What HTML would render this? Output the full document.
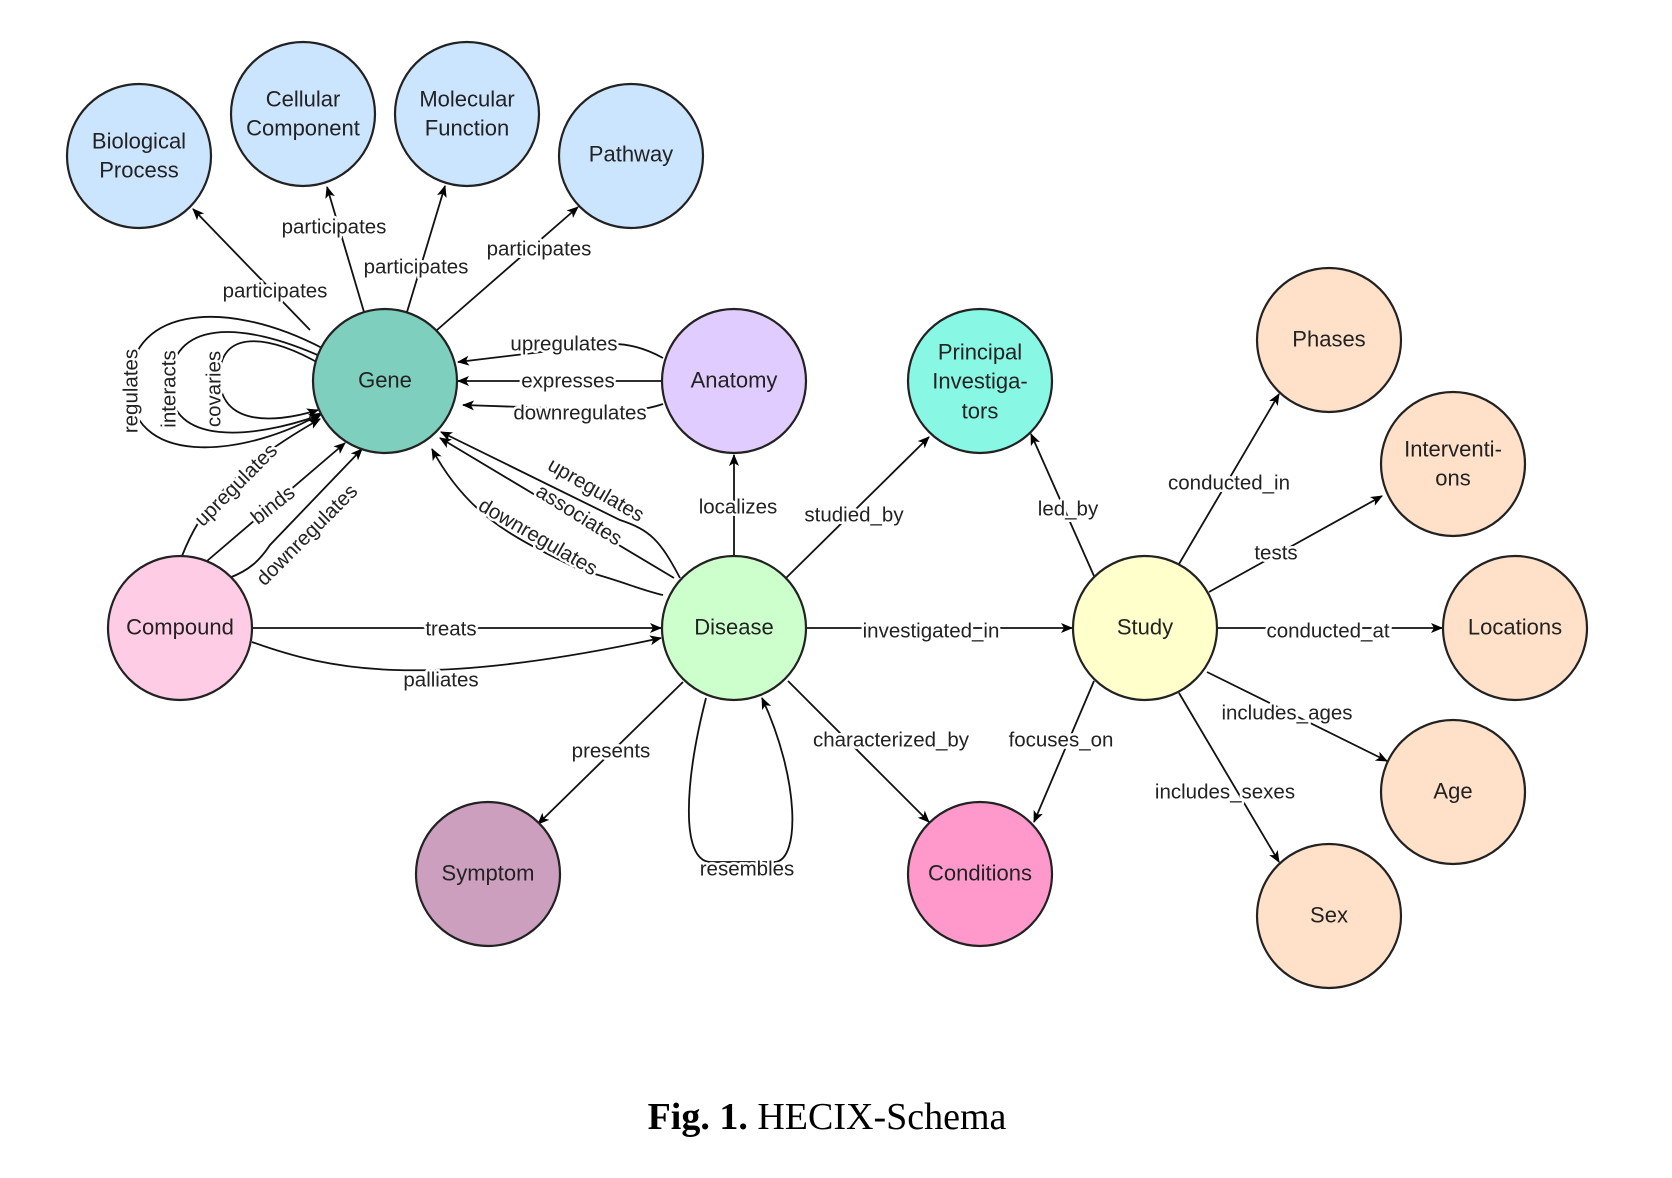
<!DOCTYPE html>
<html><head><meta charset="utf-8"><style>
html,body{margin:0;padding:0;background:#fff;}
svg{display:block;}
.n{stroke:#222;stroke-width:2.2;}
.t{font-family:"Liberation Sans",Arial,sans-serif;font-size:22px;fill:#222;text-anchor:middle;dominant-baseline:central;}
.e{fill:none;stroke:#111;stroke-width:1.8;}
.l{font-family:"Liberation Sans",Arial,sans-serif;font-size:20.5px;fill:#222;text-anchor:middle;dominant-baseline:central;paint-order:stroke;stroke:#fff;stroke-width:5px;stroke-linejoin:round;}
.cap{font-family:"Liberation Serif",serif;font-size:38px;fill:#000;text-anchor:middle;}
</style></head><body>
<svg width="1672" height="1178" viewBox="0 0 1672 1178" xmlns="http://www.w3.org/2000/svg">
<defs><marker id="a" viewBox="0 0 12 10" refX="11" refY="5" markerWidth="12" markerHeight="10" markerUnits="userSpaceOnUse" orient="auto"><path d="M0,0 L12,5 L0,10 L3,5 z" fill="#000"/></marker></defs>

<!-- edges -->
<g class="e" marker-end="url(#a)">
<path d="M310,330 L193,209"/>
<path d="M364,312 L327,187"/>
<path d="M407,312 L445,186"/>
<path d="M437,330 L578,207"/>
<path d="M663,358 Q630,340 600,345 L458,362"/>
<path d="M663,381 L458,381"/>
<path d="M663,404 Q640,412 610,410 L463,405"/>
<path d="M322,348 C220,295 125,310 130,390 C135,470 250,455 322,413"/>
<path d="M322,357 C240,320 170,320 170,385 C170,445 250,440 320,415"/>
<path d="M322,365 C270,335 225,330 220,370 C215,425 270,425 318,410"/>
<path d="M182,556 C200,510 230,470 320,419"/>
<path d="M207,561 L345,443"/>
<path d="M229,578 C250,570 260,560 270,545 L362,449"/>
<path d="M680,578 C660,540 650,530 620,520 L441,432"/>
<path d="M674,578 L440,438"/>
<path d="M663,595 C640,590 620,580 580,570 C520,540 470,520 432,449"/>
<path d="M734,556 L734,455"/>
<path d="M252,628 L661,628"/>
<path d="M252,642 C330,670 420,690 661,638"/>
<path d="M683,682 L538,824"/>
<path d="M706,698 C685,780 680,860 710,862 L775,862 C800,860 800,780 762,698"/>
<path d="M786,578 L929,437"/>
<path d="M807,628 L1072,628"/>
<path d="M788,681 L929,822"/>
<path d="M1094,576 L1031,434"/>
<path d="M1094,681 L1034,822"/>
<path d="M1179,564 L1279,394"/>
<path d="M1209,592 L1382,496"/>
<path d="M1217,628 L1442,628"/>
<path d="M1207,672 L1387,761"/>
<path d="M1179,693 L1279,862"/>
</g>

<!-- nodes -->
<circle class="n" cx="139" cy="156" r="72" fill="#cce5ff"/>
<circle class="n" cx="303" cy="114" r="72" fill="#cce5ff"/>
<circle class="n" cx="467" cy="114" r="72" fill="#cce5ff"/>
<circle class="n" cx="631" cy="156" r="72" fill="#cce5ff"/>
<circle class="n" cx="385" cy="381" r="72" fill="#7fcfbf"/>
<circle class="n" cx="734" cy="381" r="72" fill="#e1ccff"/>
<circle class="n" cx="180" cy="628" r="72" fill="#ffcce6"/>
<circle class="n" cx="734" cy="628" r="72" fill="#ccffcc"/>
<circle class="n" cx="980" cy="381" r="72" fill="#88f7e4"/>
<circle class="n" cx="1145" cy="628" r="72" fill="#ffffcc"/>
<circle class="n" cx="1329" cy="340" r="72" fill="#ffe0c8"/>
<circle class="n" cx="1453" cy="464" r="72" fill="#ffe0c8"/>
<circle class="n" cx="1515" cy="628" r="72" fill="#ffe0c8"/>
<circle class="n" cx="1453" cy="792" r="72" fill="#ffe0c8"/>
<circle class="n" cx="1329" cy="916" r="72" fill="#ffe0c8"/>
<circle class="n" cx="488" cy="874" r="72" fill="#cc9fbf"/>
<circle class="n" cx="980" cy="874" r="72" fill="#ff99cc"/>

<g class="t">
<text x="139" y="141">Biological</text><text x="139" y="170">Process</text>
<text x="303" y="99">Cellular</text><text x="303" y="128">Component</text>
<text x="467" y="99">Molecular</text><text x="467" y="128">Function</text>
<text x="631" y="154">Pathway</text>
<text x="385" y="380">Gene</text>
<text x="734" y="380">Anatomy</text>
<text x="180" y="627">Compound</text>
<text x="734" y="627">Disease</text>
<text x="980" y="352">Principal</text><text x="980" y="381">Investiga-</text><text x="980" y="411">tors</text>
<text x="1145" y="627">Study</text>
<text x="1329" y="339">Phases</text>
<text x="1453" y="449">Interventi-</text><text x="1453" y="478">ons</text>
<text x="1515" y="627">Locations</text>
<text x="1453" y="791">Age</text>
<text x="1329" y="915">Sex</text>
<text x="488" y="873">Symptom</text>
<text x="980" y="873">Conditions</text>
</g>

<g class="l">
<text x="275" y="291">participates</text>
<text x="334" y="227">participates</text>
<text x="416" y="267">participates</text>
<text x="539" y="249">participates</text>
<text x="564" y="344">upregulates</text>
<text x="568" y="381">expresses</text>
<text x="580" y="413">downregulates</text>
<text transform="translate(131,391) rotate(-90)">regulates</text>
<text transform="translate(169,389) rotate(-90)">interacts</text>
<text transform="translate(214,389) rotate(-90)">covaries</text>
<text transform="translate(236,485) rotate(-45)">upregulates</text>
<text transform="translate(273,505) rotate(-38)">binds</text>
<text transform="translate(307,535) rotate(-45)">downregulates</text>
<text transform="translate(596,490) rotate(30)">upregulates</text>
<text transform="translate(579,515) rotate(32)">associates</text>
<text transform="translate(538,537) rotate(30)">downregulates</text>
<text x="738" y="507">localizes</text>
<text x="451" y="629">treats</text>
<text x="441" y="680">palliates</text>
<text x="611" y="751">presents</text>
<text x="747" y="869">resembles</text>
<text x="854" y="515">studied_by</text>
<text x="931" y="631">investigated_in</text>
<text x="891" y="740">characterized_by</text>
<text x="1068" y="509">led_by</text>
<text x="1061" y="740">focuses_on</text>
<text x="1229" y="483">conducted_in</text>
<text x="1276" y="553">tests</text>
<text x="1328" y="631">conducted_at</text>
<text x="1287" y="713">includes_ages</text>
<text x="1225" y="792">includes_sexes</text>
</g>

<text class="cap" x="827" y="1129"><tspan font-weight="bold">Fig. 1.</tspan> HECIX-Schema</text>
</svg>
</body></html>
